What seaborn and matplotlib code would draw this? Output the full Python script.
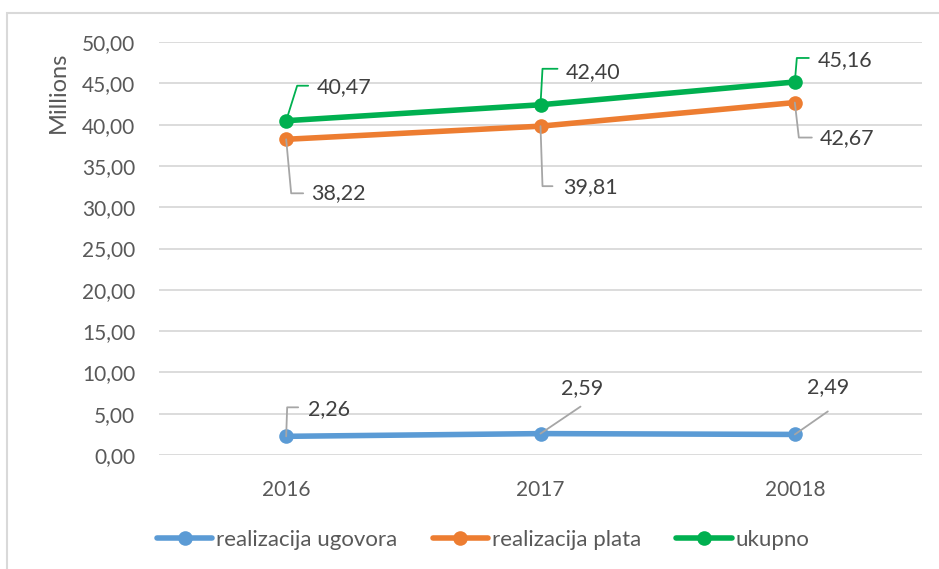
import numpy as np
import pandas as pd
import matplotlib
matplotlib.use("Agg")
import matplotlib.pyplot as plt
from matplotlib.lines import Line2D
from matplotlib.patches import Rectangle
from matplotlib.ticker import FuncFormatter, MultipleLocator
import seaborn as sns

# ============ DATA ============
years = ["2016", "2017", "20018"]
series_names = ["realizacija ugovora", "realizacija plata", "ukupno"]
ugovora = [2.26, 2.59, 2.49]
plata = [38.22, 39.81, 42.67]
ukupno = [40.47, 42.40, 45.16]

colors = ["#5B9BD5", "#ED7D31", "#00B050"]

df = pd.DataFrame({
    "year": years * 3,
    "value": ugovora + plata + ukupno,
    "series": [s for s in series_names for _ in years],
})

# ============ FIGURE ============
sns.set_style("white")
plt.rcParams["font.family"] = ["Lato", "DejaVu Sans"]

fig = plt.figure(figsize=(9.39, 5.69), dpi=100)
ax = fig.add_axes([159 / 939, 1 - 455 / 569, 763 / 939, 413 / 569])

sns.lineplot(data=df, x="year", y="value", hue="series", palette=colors,
             marker="o", markersize=10.5, markeredgewidth=0, linewidth=4,
             sort=False, ax=ax, legend=False)

ax.set_xlim(-0.5, 2.5)
ax.set_ylim(0, 50)
ax.yaxis.set_major_locator(MultipleLocator(5))
ax.yaxis.set_major_formatter(FuncFormatter(lambda v, p: f"{v:.2f}".replace(".", ",")))
ax.grid(axis="y", color="#D9D9D9", linewidth=1.3)
ax.set_axisbelow(True)
for s in ax.spines.values():
    s.set_visible(False)
ax.tick_params(axis="both", length=0, labelsize=15, colors="#595959")
ax.tick_params(axis="y", pad=17)
ax.tick_params(axis="x", pad=18)
ax.set_xlabel("")
ax.set_ylabel("")
fig.text(58 / 939, 1 - 92 / 569, "Millions", rotation=90, ha="center", va="center",
         fontsize=17, color="#595959")

# ============ Data labels with leader lines ============
# offsets in pixels from the point: corner of leader, end of leader, text left x, text center y
label_offsets = {
    "ukupno": [(11, 35, 22, 31, 34), (2, 36, 17, 25, 33), (2, 24, 14, 23, 22)],
    "realizacija plata": [(5, -54, 17, 25, -54), (2, -60, 12, 23, -61), (4, -35, 17, 25, -36)],
    "realizacija ugovora": [(1, 29, 12, 22, 27), (40, 27, None, 20, 46), (33, 23, None, 12, 47)],
}
leader_colors = {"ukupno": "#00B050", "realizacija plata": "#A6A6A6",
                 "realizacija ugovora": "#A6A6A6"}
values = {"realizacija ugovora": ugovora, "realizacija plata": plata, "ukupno": ukupno}

to_fig = fig.transFigure.inverted()
for name in series_names:
    for i, v in enumerate(values[name]):
        cx, cy, ex, tx, ty = label_offsets[name][i]
        px, py = ax.transData.transform((i, v))
        pts = [(px, py), (px + cx, py + cy)]
        if ex is not None:
            pts.append((px + ex, py + cy))
        pts = to_fig.transform(np.array(pts))
        fig.add_artist(Line2D(pts[:, 0], pts[:, 1], color=leader_colors[name],
                              linewidth=1.3, transform=fig.transFigure, zorder=1))
        fx, fy = to_fig.transform((px + tx, py + ty))
        fig.text(fx, fy, f"{v:.2f}".replace(".", ","), ha="left", va="center",
                 fontsize=15.5, color="#404040")

# ============ Legend ============
handles = [Line2D([0], [0], color=c, linewidth=4, marker="o", markersize=10.5,
                  markeredgewidth=0) for c in colors]
fig.legend(handles, series_names, loc="center", bbox_to_anchor=(483 / 939, 1 - 540 / 569),
           ncol=3, frameon=False, fontsize=16, handlelength=2.5, handletextpad=0.15,
           columnspacing=1.6, labelcolor="#595959")

# chart border
fig.add_artist(Rectangle((7 / 939, -0.1), 1.2, 1 - 13 / 569 + 0.1, transform=fig.transFigure,
                         fill=False, edgecolor="#D9D9D9", linewidth=1.5))

fig.savefig("out.png", dpi=100)
